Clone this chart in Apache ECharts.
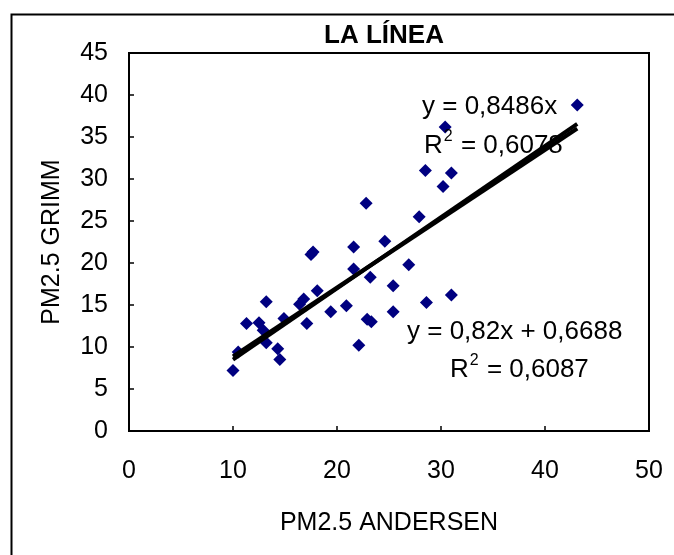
<!DOCTYPE html>
<html>
<head>
<meta charset="utf-8">
<script src="https://cdn.jsdelivr.net/npm/echarts@6/dist/echarts.min.js"></script>
<style>
html,body{margin:0;padding:0;background:#fff;}
#c{width:674px;height:555px;}
</style>
</head>
<body>
<div id="c"></div>
<script>
var xValues = [10.0, 10.5, 11.3, 12.5, 12.9, 13.2, 13.2, 14.3, 14.5, 14.9, 16.4, 16.8, 17.1, 17.5, 17.7, 18.1, 19.4, 20.9, 21.6, 21.6, 22.1, 22.8, 22.9, 23.3, 23.2, 24.6, 25.4, 25.4, 26.9, 27.9, 28.5, 28.6, 30.2, 30.4, 31.0, 31.0, 43.1];
var yValues = [7.2, 9.4, 12.8, 12.9, 12.0, 10.5, 15.4, 9.8, 8.5, 13.4, 15.1, 15.7, 12.8, 21.0, 21.3, 16.7, 14.2, 14.9, 21.9, 19.3, 10.2, 27.1, 13.3, 13.0, 18.3, 22.6, 17.3, 14.2, 19.8, 25.5, 31.0, 15.3, 29.1, 36.2, 30.7, 16.2, 38.8];
var trendX = [10, 43.1];
var trendThroughOriginY = [8.49, 36.57];
var trendLinearY = [8.87, 36.01];
var xTicks = [0, 10, 20, 30, 40, 50];
var yTicks = [0, 5, 10, 15, 20, 25, 30, 35, 40, 45];
var titleText = 'LA LÍNEA';
var xName = 'PM2.5 ANDERSEN';
var yName = 'PM2.5 GRIMM';
var eq1 = 'y = 0,8486x';
var r1Value = ' = 0,6078';
var eq2 = 'y = 0,82x + 0,6688';
var r2Value = ' = 0,6087';

var points = xValues.map(function (x, i) { return [x, yValues[i]]; });
var line1 = trendX.map(function (x, i) { return [x, trendThroughOriginY[i]]; });
var line2 = trendX.map(function (x, i) { return [x, trendLinearY[i]]; });

var FONT = '"Liberation Sans", Arial, sans-serif';
var chart = echarts.init(document.getElementById('c'), null, {renderer: 'canvas'});
var axisCommon = {
  axisLine: {show: true, lineStyle: {color: '#000', width: 2}},
  axisTick: {show: true, inside: true, length: 5, lineStyle: {color: '#000', width: 1.5}},
  splitLine: {show: false},
  axisLabel: {color: '#000', fontSize: 25, fontFamily: FONT},
  nameLocation: 'middle',
  nameTextStyle: {color: '#000', fontSize: 25, fontFamily: FONT}
};
var richR = {
  a: {fontSize: 26, fontFamily: FONT, color: '#000', lineHeight: 30, verticalAlign: 'bottom'},
  s: {fontSize: 16, fontFamily: FONT, color: '#000', verticalAlign: 'top', lineHeight: 30, padding: [0, 1, 0, 1]}
};
chart.setOption({
  animation: false,
  backgroundColor: '#fff',
  title: {
    text: titleText,
    left: 379, top: 18, textAlign: 'center',
    textStyle: {fontSize: 26, fontWeight: 'bold', color: '#000', fontFamily: FONT}
  },
  grid: {left: 129, right: 25, top: 53, bottom: 124, show: true, borderColor: '#000', borderWidth: 2},
  xAxis: Object.assign({}, axisCommon, {
    type: 'value', min: xTicks[0], max: xTicks[xTicks.length - 1], interval: 10,
    name: xName, nameGap: 80,
    axisLabel: Object.assign({}, axisCommon.axisLabel, {margin: 28, formatter: function (v) { return xTicks.indexOf(v) >= 0 ? String(v) : ''; }})
  }),
  yAxis: Object.assign({}, axisCommon, {
    type: 'value', min: yTicks[0], max: yTicks[yTicks.length - 1], interval: 5,
    name: yName, nameGap: 64,
    axisLabel: Object.assign({}, axisCommon.axisLabel, {margin: 21, formatter: function (v) { return yTicks.indexOf(v) >= 0 ? String(v) : ''; }})
  }),
  graphic: [
    {type: 'rect', left: 9, top: 12, shape: {width: 700, height: 600}, style: {fill: 'none', stroke: '#000', lineWidth: 2}, silent: true, z: -1},
    {type: 'text', left: 422, top: 94, style: {text: eq1, fontSize: 26, fontFamily: FONT, fill: '#000'}, z: 10},
    {type: 'text', left: 424, top: 129, style: {text: '{a|R}{s|2}{a|' + r1Value + '}', rich: richR}, z: 10},
    {type: 'text', left: 407, top: 319, style: {text: eq2, fontSize: 26, fontFamily: FONT, fill: '#000'}, z: 10},
    {type: 'text', left: 450, top: 353, style: {text: '{a|R}{s|2}{a|' + r2Value + '}', rich: richR}, z: 10}
  ],
  series: [
    {type: 'scatter', data: points, symbol: 'diamond', symbolSize: 13, itemStyle: {color: '#000080', opacity: 1}, z: 2},
    {type: 'line', data: line1, showSymbol: false, symbol: 'none', lineStyle: {color: '#000', width: 4}, z: 3},
    {type: 'line', data: line2, showSymbol: false, symbol: 'none', lineStyle: {color: '#000', width: 4}, z: 3}
  ]
});
</script>
</body>
</html>
